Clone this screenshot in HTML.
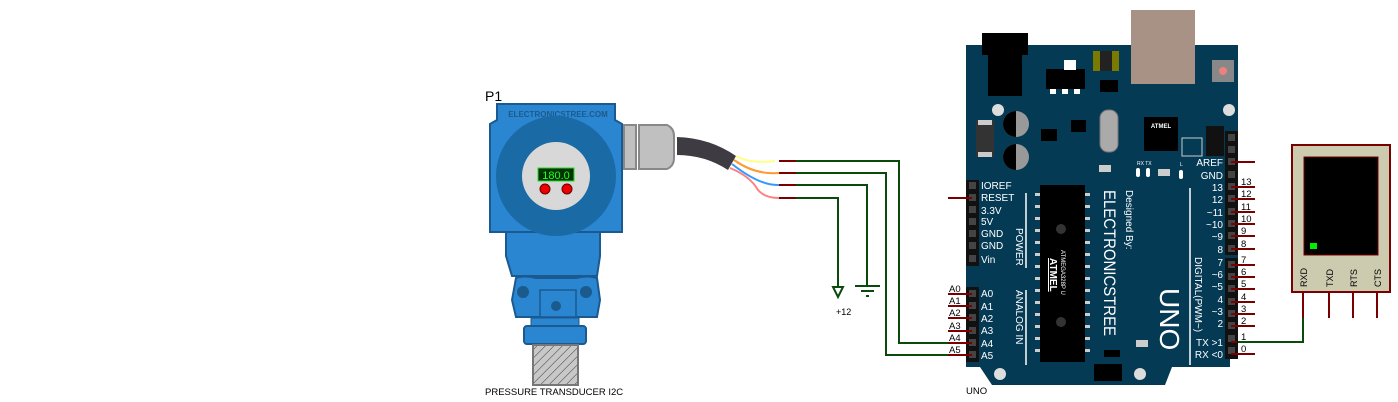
<!DOCTYPE html>
<html><head><meta charset="utf-8"><style>
html,body{margin:0;padding:0;background:#fff;width:1398px;height:402px;overflow:hidden}
svg{display:block;font-family:"Liberation Sans",sans-serif}
</style></head><body>
<svg width="1398" height="402" viewBox="0 0 1398 402">
<defs>
<pattern id="hatch" width="6" height="6" patternUnits="userSpaceOnUse" patternTransform="rotate(45)">
<rect width="6" height="6" fill="#c8c8c8"/><line x1="0" y1="0" x2="0" y2="6" stroke="#333" stroke-width="1"/>
</pattern>
</defs>

<!-- Transducer -->
<text x="485" y="101" font-size="14" fill="#000">P1</text>
<path d="M497 104 L615 104 L615 120 L622 124 L622 232 L490 232 L490 124 L497 120 Z" fill="#2a86d0" stroke="#1a5a90" stroke-width="2"/>
<path d="M506 232 L600 232 L600 256 L597 276 L512 276 L506 256 Z" fill="#2a86d0" stroke="#1a5a90" stroke-width="2"/>
<text x="558" y="117" font-size="8" font-weight="bold" fill="#1d5a8c" text-anchor="middle">ELECTRONICSTREE.COM</text>
<circle cx="556" cy="176" r="60" fill="#1a6aa5"/>
<circle cx="556" cy="176" r="34" fill="#d8d8d8"/>
<rect x="538" y="168" width="36" height="13" fill="#003300" stroke="#22dd22" stroke-width="1"/>
<text x="556" y="179" font-size="11" fill="#22ff22" text-anchor="middle">180.0</text>
<circle cx="545" cy="189" r="5" fill="#e00" stroke="#600"/>
<circle cx="567" cy="189" r="5" fill="#e00" stroke="#600"/>
<path d="M516 278 Q524 275 536 278 L576 278 Q588 275 597 278 L600 300 L597 317 L516 317 L512 300 Z" fill="#2a86d0" stroke="#1a5a90" stroke-width="2"/>
<path d="M540 290 L576 290 L576 317 L540 317 Z" fill="#2a86d0" stroke="#1a5a90" stroke-width="1.5"/>
<circle cx="523" cy="292" r="6" fill="#1a5a8c"/>
<circle cx="586" cy="292" r="6" fill="#1a5a8c"/>
<circle cx="556" cy="306" r="5" fill="#1a5a8c"/>
<rect x="531" y="318" width="48" height="8" fill="#2a86d0" stroke="#1a5a90"/>
<rect x="524" y="326" width="62" height="18" rx="3" fill="#2a86d0" stroke="#1a5a90" stroke-width="2"/>
<rect x="533" y="345" width="45" height="40" fill="url(#hatch)" stroke="#777" stroke-width="2"/>
<text x="485" y="395" font-size="9.5" fill="#000">PRESSURE TRANSDUCER I2C</text>

<!-- cable gland -->
<rect x="624" y="125" width="12" height="44" fill="#c0c0c0" stroke="#888" stroke-width="2"/>
<path d="M639 125 L667 125 Q674 128 674 136 L674 158 Q674 166 667 169 L639 169 Z" fill="#c0c0c0" stroke="#888" stroke-width="2"/>
<path d="M677 137 Q710 138 736 156 L728 170 Q705 155 677 155 Z" fill="#3e3c42"/>
<path d="M736 156 Q750 164 775 161" stroke="#ffff88" stroke-width="2" fill="none"/>
<path d="M734 160 Q755 175 779 173" stroke="#ff9933" stroke-width="2" fill="none"/>
<path d="M732 164 Q760 186 779 185" stroke="#3399ff" stroke-width="2" fill="none"/>
<path d="M730 168 Q750 176 758 190 Q765 198 779 198" stroke="#ff8080" stroke-width="2" fill="none"/>

<!-- wires -->
<g stroke="#7a0000" stroke-width="2">
<line x1="779" y1="161" x2="796" y2="161"/><line x1="779" y1="173" x2="796" y2="173"/>
<line x1="779" y1="185" x2="796" y2="185"/><line x1="779" y1="198" x2="796" y2="198"/>
</g>
<g stroke="#0a4a0a" stroke-width="2" fill="none">
<polyline points="796,161 899,161 899,343 948,343"/>
<polyline points="796,173 886,173 886,355 948,355"/>
<polyline points="796,185 867,185 867,287"/>
<polyline points="796,198 838,198 838,287"/>
<polygon points="833,287 843,287 838,297"/>
<line x1="855" y1="286" x2="880" y2="286"/><line x1="861" y1="291" x2="874" y2="291"/><line x1="866" y1="296" x2="869" y2="296"/>
<polyline points="1303,318 1303,342 1237,342"/>
</g>
<text x="836" y="315" font-size="9" fill="#000">+12</text>

<!-- Arduino board -->
<polygon points="966,45 1238,45 1238,350 1230,358 1230,367 1172,367 1165,385 992,385 980,367 966,367" fill="#053a55"/>
<rect x="1131" y="10" width="64" height="74" fill="#a89285"/>
<rect x="982" y="33" width="46" height="22" fill="#000"/>
<rect x="988" y="55" width="34" height="41" fill="#000"/>
<rect x="1046" y="69" width="39" height="20" fill="#000"/>
<rect x="1064" y="60" width="12" height="10" fill="#fff"/>
<rect x="1050" y="89" width="6" height="5" fill="#fff"/><rect x="1062" y="89" width="6" height="5" fill="#fff"/><rect x="1074" y="89" width="6" height="5" fill="#fff"/>
<rect x="1093" y="51" width="26" height="20" fill="#7a7a00"/><rect x="1100" y="51" width="12" height="20" fill="#222"/>
<rect x="1100" y="80" width="18" height="12" fill="#000"/>
<rect x="1212" y="60" width="22" height="22" fill="#888"/><circle cx="1223" cy="71" r="4" fill="#f08080"/>
<circle cx="1229" cy="110" r="6" fill="#ddd"/><circle cx="998" cy="110" r="6" fill="#ddd"/>
<rect x="976" y="120" width="18" height="37" fill="#333"/><rect x="978" y="120" width="14" height="5" fill="#ccc"/><rect x="978" y="152" width="14" height="5" fill="#ccc"/>
<circle cx="1016" cy="124" r="13" fill="#999"/><path d="M1016 111 A13 13 0 0 0 1016 137 Z" fill="#000"/>
<circle cx="1016" cy="157" r="13" fill="#999"/><path d="M1016 144 A13 13 0 0 0 1016 170 Z" fill="#000"/>
<rect x="1041" y="129" width="16" height="12" fill="#000"/>
<rect x="1071" y="120" width="15" height="12" fill="#000"/>
<rect x="1100" y="110" width="18" height="42" rx="8" fill="#aaa" stroke="#777"/>
<rect x="1144" y="117" width="34" height="34" fill="#000"/>
<text x="1161" y="128" font-size="6" fill="#fff" text-anchor="middle" font-weight="bold">ATMEL</text>
<rect x="1182" y="138" width="20" height="18" fill="#053a55" stroke="#ccc"/>
<rect x="1206" y="126" width="18" height="30" fill="#111"/>
<rect x="1099" y="165" width="12" height="7" fill="#ccc"/><rect x="1158" y="169" width="12" height="7" fill="#ccc"/>
<rect x="1136" y="168" width="4" height="9" rx="2" fill="#fff"/><rect x="1146" y="168" width="4" height="9" rx="2" fill="#fff"/><rect x="1179" y="170" width="4" height="9" rx="2" fill="#fff"/>
<text x="1137" y="165" font-size="5" fill="#fff">RX TX</text><text x="1180" y="166" font-size="5" fill="#fff">L</text>

<!-- chip -->
<rect x="1040" y="185" width="45" height="177" fill="#000"/>
<g fill="#ccc">
<rect x="1035" y="193" width="5" height="3"/><rect x="1085" y="193" width="5" height="3"/>
<rect x="1035" y="205" width="5" height="3"/><rect x="1085" y="205" width="5" height="3"/>
<rect x="1035" y="217" width="5" height="3"/><rect x="1085" y="217" width="5" height="3"/>
<rect x="1035" y="229" width="5" height="3"/><rect x="1085" y="229" width="5" height="3"/>
<rect x="1035" y="241" width="5" height="3"/><rect x="1085" y="241" width="5" height="3"/>
<rect x="1035" y="253" width="5" height="3"/><rect x="1085" y="253" width="5" height="3"/>
<rect x="1035" y="265" width="5" height="3"/><rect x="1085" y="265" width="5" height="3"/>
<rect x="1035" y="277" width="5" height="3"/><rect x="1085" y="277" width="5" height="3"/>
<rect x="1035" y="289" width="5" height="3"/><rect x="1085" y="289" width="5" height="3"/>
<rect x="1035" y="301" width="5" height="3"/><rect x="1085" y="301" width="5" height="3"/>
<rect x="1035" y="313" width="5" height="3"/><rect x="1085" y="313" width="5" height="3"/>
<rect x="1035" y="325" width="5" height="3"/><rect x="1085" y="325" width="5" height="3"/>
<rect x="1035" y="337" width="5" height="3"/><rect x="1085" y="337" width="5" height="3"/>
<rect x="1035" y="349" width="5" height="3"/><rect x="1085" y="349" width="5" height="3"/>
</g>
<circle cx="1061" cy="229" r="5" fill="#333"/><circle cx="1061" cy="322" r="5" fill="#333"/>
<text transform="translate(1050,258) rotate(90)" font-size="10" font-weight="bold" fill="#fff" text-decoration="underline">ATMEL</text>
<text transform="translate(1061,250) rotate(90)" font-size="6" fill="#fff">ATMEGA328P U</text>
<text transform="translate(1104,190) rotate(90)" font-size="17" fill="#fff" textLength="146" lengthAdjust="spacingAndGlyphs">ELECTRONICSTREE</text>
<text transform="translate(1126,190) rotate(90)" font-size="10" fill="#fff">Designed By:</text>
<text transform="translate(1160,288) rotate(90)" font-size="28" fill="#fff">UNO</text>
<text transform="translate(1195,257) rotate(90)" font-size="10" fill="#fff">DIGITAL(PWM~)</text>
<text transform="translate(1016,228) rotate(90)" font-size="10" fill="#fff">POWER</text>
<text transform="translate(1016,290) rotate(90)" font-size="10" fill="#fff">ANALOG IN</text>
<line x1="1026" y1="193" x2="1026" y2="268" stroke="#fff" stroke-width="1.5"/>
<line x1="1026" y1="290" x2="1026" y2="365" stroke="#fff" stroke-width="1.5"/>
<line x1="1190" y1="188" x2="1190" y2="365" stroke="#fff" stroke-width="1.5"/>
<rect x="1104" y="350" width="16" height="7" fill="#000"/>
<rect x="1136" y="340" width="12" height="7" fill="#ccc"/>
<rect x="1094" y="364" width="28" height="17" fill="#000"/>
<circle cx="1000" cy="374" r="6" fill="#ddd"/><circle cx="1140" cy="374" r="6" fill="#ddd"/>
<text x="966" y="394" font-size="9.5" fill="#000">UNO</text>

<!-- left headers -->
<rect x="966" y="180" width="13" height="86" fill="#111"/>
<rect x="966" y="287" width="13" height="75" fill="#111"/>
<g fill="#444">
<rect x="969" y="182" width="7" height="7"/><rect x="969" y="194" width="7" height="7"/><rect x="969" y="206" width="7" height="7"/><rect x="969" y="218" width="7" height="7"/><rect x="969" y="230" width="7" height="7"/><rect x="969" y="242" width="7" height="7"/><rect x="969" y="255" width="7" height="7"/>
<rect x="969" y="290" width="7" height="7"/><rect x="969" y="302" width="7" height="7"/><rect x="969" y="314" width="7" height="7"/><rect x="969" y="327" width="7" height="7"/><rect x="969" y="339" width="7" height="7"/><rect x="969" y="351" width="7" height="7"/>
</g>
<g font-size="10" fill="#fff">
<text x="981" y="189">IOREF</text><text x="981" y="201">RESET</text><text x="981" y="214">3.3V</text><text x="981" y="225">5V</text><text x="981" y="237">GND</text><text x="981" y="249">GND</text><text x="981" y="263">Vin</text>
<text x="981" y="297">A0</text><text x="981" y="310">A1</text><text x="981" y="322">A2</text><text x="981" y="334">A3</text><text x="981" y="347">A4</text><text x="981" y="359">A5</text>
</g>
<g stroke="#7a0000" stroke-width="2">
<line x1="948" y1="198" x2="972" y2="198"/>
<line x1="948" y1="294" x2="972" y2="294"/><line x1="948" y1="306" x2="972" y2="306"/><line x1="948" y1="318" x2="972" y2="318"/><line x1="948" y1="331" x2="972" y2="331"/><line x1="948" y1="343" x2="972" y2="343"/><line x1="948" y1="355" x2="972" y2="355"/>
</g>
<g font-size="9.5" fill="#000">
<text x="949" y="292">A0</text><text x="949" y="304">A1</text><text x="949" y="316">A2</text><text x="949" y="329">A3</text><text x="949" y="341">A4</text><text x="949" y="353">A5</text>
</g>

<!-- right headers -->
<rect x="1225" y="131" width="13" height="124" fill="#111"/>
<rect x="1225" y="258" width="13" height="101" fill="#111"/>
<g fill="#444">
<rect x="1228" y="134" width="7" height="7"/><rect x="1228" y="146" width="7" height="7"/><rect x="1228" y="158" width="7" height="7"/><rect x="1228" y="171" width="7" height="7"/><rect x="1228" y="183" width="7" height="7"/><rect x="1228" y="195" width="7" height="7"/><rect x="1228" y="208" width="7" height="7"/><rect x="1228" y="220" width="7" height="7"/><rect x="1228" y="232" width="7" height="7"/><rect x="1228" y="245" width="7" height="7"/>
<rect x="1228" y="261" width="7" height="7"/><rect x="1228" y="273" width="7" height="7"/><rect x="1228" y="285" width="7" height="7"/><rect x="1228" y="298" width="7" height="7"/><rect x="1228" y="310" width="7" height="7"/><rect x="1228" y="322" width="7" height="7"/><rect x="1228" y="335" width="7" height="7"/><rect x="1228" y="347" width="7" height="7"/>
</g>
<g font-size="10" fill="#fff" text-anchor="end">
<text x="1223" y="166">AREF</text><text x="1223" y="179">GND</text><text x="1223" y="191">13</text><text x="1223" y="203">12</text><text x="1223" y="216">~11</text><text x="1223" y="228">~10</text><text x="1223" y="240">~9</text><text x="1223" y="253">8</text>
<text x="1223" y="266">7</text><text x="1223" y="278">~6</text><text x="1223" y="290">~5</text><text x="1223" y="303">4</text><text x="1223" y="315">~3</text><text x="1223" y="327">2</text><text x="1223" y="346">TX &gt;1</text><text x="1223" y="358">RX &lt;0</text>
</g>
<g stroke="#7a0000" stroke-width="2">
<line x1="1231" y1="162" x2="1255" y2="162"/><line x1="1231" y1="187" x2="1255" y2="187"/><line x1="1231" y1="199" x2="1255" y2="199"/><line x1="1231" y1="212" x2="1255" y2="212"/><line x1="1231" y1="224" x2="1255" y2="224"/><line x1="1231" y1="236" x2="1255" y2="236"/><line x1="1231" y1="249" x2="1255" y2="249"/>
<line x1="1231" y1="265" x2="1255" y2="265"/><line x1="1231" y1="277" x2="1255" y2="277"/><line x1="1231" y1="289" x2="1255" y2="289"/><line x1="1231" y1="302" x2="1255" y2="302"/><line x1="1231" y1="314" x2="1255" y2="314"/><line x1="1231" y1="326" x2="1255" y2="326"/><line x1="1231" y1="342" x2="1237" y2="342"/><line x1="1231" y1="354" x2="1255" y2="354"/>
</g>
<g font-size="9.5" fill="#000">
<text x="1241" y="185">13</text><text x="1241" y="197">12</text><text x="1241" y="210">11</text><text x="1241" y="222">10</text><text x="1241" y="234">9</text><text x="1241" y="247">8</text>
<text x="1241" y="263">7</text><text x="1241" y="275">6</text><text x="1241" y="287">5</text><text x="1241" y="300">4</text><text x="1241" y="312">3</text><text x="1241" y="324">2</text><text x="1241" y="340">1</text><text x="1241" y="352">0</text>
</g>

<!-- Terminal -->
<rect x="1292" y="145" width="98" height="147" fill="#cccbb0" stroke="#7a0000" stroke-width="2"/>
<rect x="1304" y="157" width="74" height="98" fill="#000" stroke="#7a0000" stroke-width="1"/>
<rect x="1310" y="243" width="7" height="6" fill="#00ee00"/>
<g font-size="9" fill="#000">
<text transform="translate(1307,287) rotate(-90)">RXD</text>
<text transform="translate(1333,287) rotate(-90)">TXD</text>
<text transform="translate(1357,287) rotate(-90)">RTS</text>
<text transform="translate(1381,287) rotate(-90)">CTS</text>
</g>
<g stroke="#7a0000" stroke-width="2">
<line x1="1303" y1="292" x2="1303" y2="318"/><line x1="1329" y1="292" x2="1329" y2="318"/><line x1="1353" y1="292" x2="1353" y2="318"/><line x1="1377" y1="292" x2="1377" y2="318"/>
</g>
</svg>
</body></html>
